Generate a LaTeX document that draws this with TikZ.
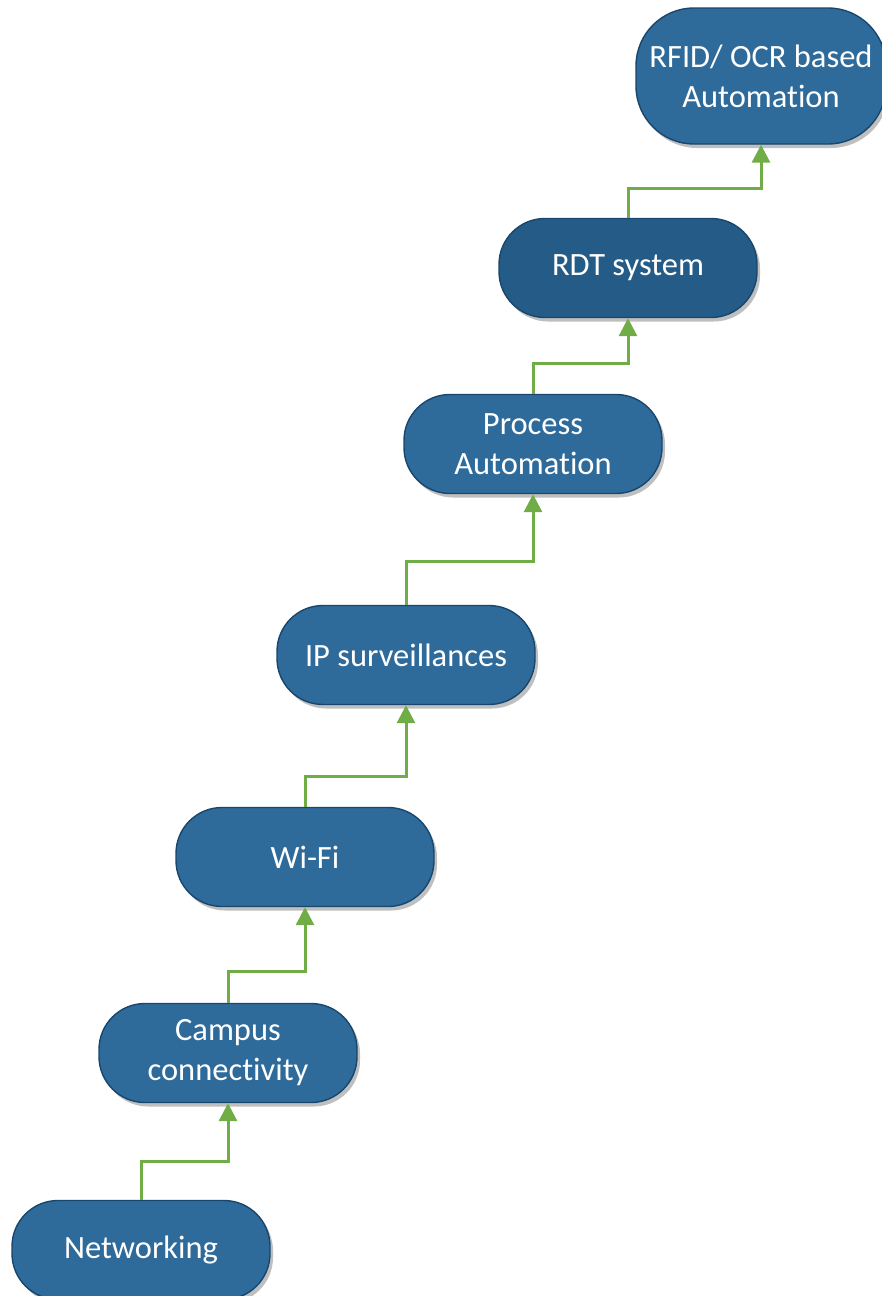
\documentclass[tikz,border=0pt]{standalone}
\usepackage{fontspec}
\setmainfont[Ligatures=NoCommon]{Carlito}
\usetikzlibrary{arrows.meta,shadows}

\definecolor{stagefill}{RGB}{46,107,155}
\definecolor{stagedark}{RGB}{37,92,135}
\definecolor{stageedge}{RGB}{24,70,108}
\definecolor{linkgreen}{RGB}{112,173,71}

\tikzset{
  stage/.style={draw=stageedge, line width=1.4pt, fill=stagefill,
    rounded corners=46pt, minimum width=258pt, minimum height=99pt,
    inner sep=0pt, text=white, align=center,
    font=\fontsize{32.5}{40}\selectfont,
    drop shadow={shadow xshift=3pt, shadow yshift=-4pt, opacity=0.25, fill=black}},
  link/.style={draw=linkgreen, line width=3pt,
    -{Triangle[length=18pt,width=18pt]}}
}

\begin{document}
\begin{tikzpicture}[x=1pt,y=-1pt]
  \useasboundingbox (0,0) rectangle (882,1296);

  % the steps, bottom to top
  \node[stage] (net)    at (141,1250) {Networking};
  \node[stage] (campus) at (228,1053) {Campus\\connectivity};
  \node[stage] (wifi)   at (305,857)  {Wi-Fi};
  \node[stage] (ip)     at (406,655)  {IP surveillances};
  \node[stage] (proc)   at (533,444)  {Process\\Automation};
  \node[stage, fill=stagedark] (rdt) at (628,268) {RDT system};
  \node[stage, minimum width=250pt, minimum height=136pt, rounded corners=58pt]
       (rfid) at (761,76) {RFID/ OCR based\\Automation};

  % stepped connectors
  \draw[link] (net.north)    -- ++(0,-38) -| (campus.south);
  \draw[link] (campus.north) -- ++(0,-31) -| (wifi.south);
  \draw[link] (wifi.north)   -- ++(0,-30) -| (ip.south);
  \draw[link] (ip.north)     -- ++(0,-43) -| (proc.south);
  \draw[link] (proc.north)   -- ++(0,-30) -| (rdt.south);
  \draw[link] (rdt.north)    -- ++(0,-29) -| (rfid.south);
\end{tikzpicture}
\end{document}
